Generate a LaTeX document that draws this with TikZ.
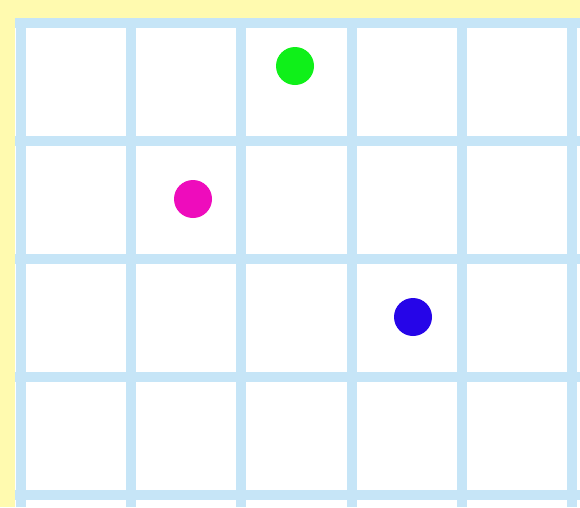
\documentclass[tikz,border=0pt]{standalone}
\usepackage{tikz}
\usetikzlibrary{positioning}
\definecolor{padyellow}   {RGB}{255, 250, 175}
\definecolor{gridblue}    {RGB}{198, 229, 247}
\definecolor{dotgreen}    {RGB}{ 15, 240,  25}
\definecolor{dotmagenta}  {RGB}{238,  12, 188}
\definecolor{dotblue}     {RGB}{ 38,   5, 232}
\tikzset{
	gridline/.style={gridblue, line width=10pt},
	dot/.style={circle, inner sep=0pt, minimum size=38pt, draw=none}
}
\begin{document}
\begin{tikzpicture}[x=1pt,y=-1pt]
	\useasboundingbox (0,0) rectangle (580,507);
	\fill[padyellow] (0,0) rectangle (580,507);
	\fill[white] (15,18) rectangle (580,507);
	\foreach \i in {0,...,5}{\draw[gridline] ({21+110.2*\i},18)--({21+110.2*\i},507);}
	\foreach \j in {0,...,4}{\draw[gridline] (15,{23+118*\j})--(580,{23+118*\j});}
	\node[dot,fill=dotgreen]   (green)   at (295,66)  {};
	\node[dot,fill=dotmagenta] (magenta) at (193,199) {};
	\node[dot,fill=dotblue]    (blue)    at (413,317) {};
\end{tikzpicture}
\end{document}
